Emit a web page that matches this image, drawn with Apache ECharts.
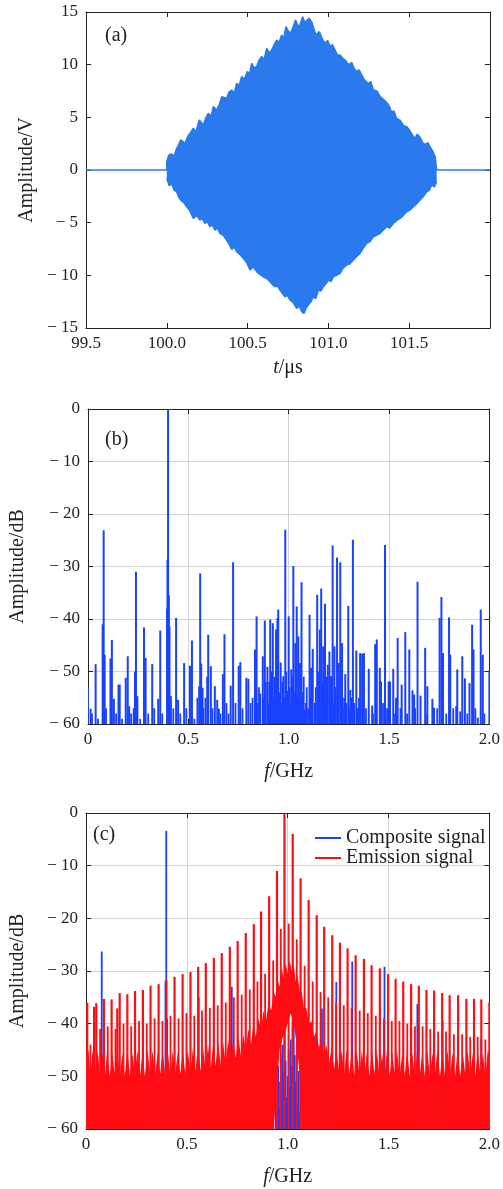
<!DOCTYPE html>
<html><head><meta charset="utf-8">
<script src="https://cdn.jsdelivr.net/npm/echarts@6/dist/echarts.min.js"></script>
<style>html,body{margin:0;padding:0;background:#fff}#c{width:503px;height:1189px}</style>
</head><body><div id="c"></div>
<script>
// ---------- Panel (a): time-domain envelope (t in µs, amplitude in V) ----------
const aUpper = [[99.5,0],[100.0,0],[100.0,0.79],[100.012,1.40],[100.030,1.52],[100.045,1.30],[100.057,1.90],[100.070,2.30],[100.086,2.85],[100.113,2.53],[100.130,3.20],[100.144,3.48],[100.164,3.96],[100.180,3.60],[100.201,4.75],[100.226,4.27],[100.240,4.90],[100.257,5.38],[100.275,5.10],[100.288,6.01],[100.309,5.70],[100.325,6.20],[100.340,6.96],[100.371,6.80],[100.385,7.40],[100.402,7.59],[100.418,7.30],[100.432,8.23],[100.448,8.00],[100.463,8.86],[100.480,8.60],[100.498,9.34],[100.512,9.10],[100.525,10.13],[100.540,9.70],[100.556,9.81],[100.570,10.40],[100.587,10.76],[100.603,10.50],[100.618,11.55],[100.635,11.10],[100.649,11.39],[100.665,11.90],[100.680,12.34],[100.695,12.10],[100.711,12.82],[100.725,12.50],[100.737,13.61],[100.752,13.20],[100.766,12.97],[100.782,13.60],[100.797,14.24],[100.810,13.70],[100.824,13.77],[100.841,14.56],[100.853,14.00],[100.865,13.92],[100.880,14.40],[100.896,14.08],[100.910,13.40],[100.923,12.82],[100.944,13.13],[100.960,12.50],[100.979,12.03],[100.995,12.30],[101.010,11.71],[101.025,11.90],[101.041,11.39],[101.056,10.90],[101.072,10.92],[101.088,10.60],[101.103,10.44],[101.125,10.00],[101.144,10.20],[101.160,9.60],[101.175,9.34],[101.190,9.50],[101.206,9.00],[101.225,8.50],[101.247,8.20],[101.262,8.40],[101.278,7.60],[101.300,7.50],[101.319,7.00],[101.340,6.70],[101.360,6.40],[101.375,6.10],[101.391,5.50],[101.405,5.60],[101.422,4.90],[101.445,4.70],[101.464,4.20],[101.485,4.10],[101.505,3.70],[101.520,3.30],[101.536,3.00],[101.550,3.40],[101.567,3.10],[101.583,2.60],[101.598,2.40],[101.615,2.60],[101.629,2.20],[101.645,1.80],[101.660,1.27],[101.670,1.11],[101.670,0],[102.0,0]];
const aLower = [[100.0,-0.79],[100.015,-1.50],[100.030,-1.27],[100.045,-1.90],[100.061,-2.06],[100.075,-2.60],[100.086,-2.85],[100.105,-3.10],[100.123,-3.48],[100.140,-3.80],[100.164,-4.59],[100.185,-4.30],[100.205,-4.75],[100.220,-4.60],[100.236,-5.06],[100.250,-4.90],[100.267,-5.38],[100.282,-5.20],[100.298,-5.70],[100.312,-5.50],[100.329,-6.01],[100.350,-6.20],[100.370,-6.65],[100.385,-7.00],[100.402,-7.53],[100.418,-7.30],[100.432,-7.75],[100.452,-8.00],[100.474,-8.39],[100.495,-8.80],[100.515,-9.49],[100.535,-9.20],[100.556,-9.65],[100.575,-9.90],[100.597,-10.13],[100.618,-10.30],[100.639,-10.60],[100.655,-10.90],[100.670,-11.08],[100.685,-11.00],[100.700,-11.39],[100.715,-11.70],[100.731,-12.03],[100.746,-11.90],[100.762,-12.34],[100.783,-12.60],[100.804,-13.13],[100.820,-12.90],[100.835,-13.45],[100.849,-13.61],[100.862,-13.10],[100.876,-12.82],[100.892,-12.50],[100.907,-12.03],[100.922,-12.20],[100.938,-11.39],[100.953,-11.50],[100.969,-11.08],[100.985,-10.80],[101.000,-10.44],[101.015,-10.60],[101.031,-10.13],[101.050,-10.00],[101.072,-9.81],[101.092,-9.30],[101.113,-9.02],[101.134,-8.90],[101.154,-8.54],[101.175,-8.20],[101.196,-7.91],[101.216,-7.40],[101.237,-6.96],[101.258,-6.80],[101.278,-6.33],[101.298,-6.20],[101.319,-6.01],[101.340,-5.70],[101.360,-5.38],[101.380,-5.50],[101.402,-5.06],[101.422,-4.80],[101.443,-4.59],[101.464,-4.30],[101.484,-3.96],[101.505,-3.80],[101.526,-3.48],[101.546,-3.20],[101.567,-2.85],[101.588,-2.50],[101.608,-2.06],[101.625,-1.90],[101.639,-1.42],[101.655,-1.60],[101.670,-1.11]];

// ---------- Panel (b): spectrum spikes [f GHz, dB] ----------
const bSpikes = [[0.000,-53.0],[0.013,-57.1],[0.038,-48.6],[0.073,-41.0],[0.078,-23.1],[0.083,-46.8],[0.112,-47.5],[0.119,-44.0],[0.129,-55.2],[0.152,-52.5],[0.158,-52.5],[0.188,-51.2],[0.198,-47.1],[0.205,-56.6],[0.228,-57.0],[0.234,-50.0],[0.239,-31.0],[0.246,-54.7],[0.279,-41.6],[0.287,-47.4],[0.320,-48.6],[0.350,-55.2],[0.360,-42.2],[0.394,-38.0],[0.396,-28.7],[0.399,0],[0.403,-35.5],[0.406,-41.4],[0.413,-54.7],[0.439,-39.8],[0.449,-55.4],[0.479,-48.4],[0.508,-48.9],[0.518,-44.1],[0.554,-52.8],[0.559,-31.3],[0.564,-48.5],[0.571,-53.1],[0.594,-51.0],[0.599,-43.0],[0.612,-49.0],[0.632,-52.8],[0.644,-55.4],[0.652,-57.1],[0.672,-50.5],[0.680,-42.9],[0.711,-52.7],[0.723,-29.2],[0.751,-48.9],[0.759,-48.2],[0.789,-51.2],[0.799,-51.4],[0.832,-45.8],[0.840,-39.5],[0.858,-54.2],[0.871,-47.1],[0.881,-40.3],[0.894,-49.1],[0.908,-40.1],[0.921,-40.8],[0.937,-42.0],[0.944,-39.8],[0.948,-38.2],[0.960,-48.3],[0.973,-50.9],[0.983,-23.0],[0.992,-53.7],[1.000,-39.5],[1.013,-49.6],[1.023,-29.9],[1.033,-44.6],[1.040,-37.6],[1.048,-43.3],[1.056,-48.4],[1.064,-33.0],[1.079,-57.3],[1.104,-39.2],[1.112,-49.3],[1.120,-45.7],[1.142,-35.4],[1.155,-42.0],[1.162,-34.2],[1.172,-45.2],[1.181,-37.1],[1.195,-48.7],[1.203,-46.2],[1.211,-50.9],[1.219,-26.0],[1.228,-45.2],[1.241,-28.3],[1.249,-48.4],[1.257,-29.2],[1.266,-44.6],[1.282,-50.5],[1.297,-37.5],[1.307,-53.5],[1.320,-24.9],[1.337,-46.0],[1.356,-46.5],[1.366,-46.6],[1.375,-46.5],[1.399,-49.5],[1.416,-56.5],[1.431,-44.8],[1.439,-43.9],[1.454,-49.3],[1.460,-51.9],[1.480,-25.9],[1.498,-51.9],[1.505,-51.9],[1.521,-49.5],[1.535,-55.0],[1.543,-43.6],[1.563,-52.5],[1.581,-42.5],[1.601,-45.8],[1.617,-53.6],[1.625,-54.4],[1.642,-32.9],[1.657,-54.6],[1.680,-45.5],[1.691,-52.8],[1.716,-55.2],[1.724,-56.9],[1.752,-39.8],[1.761,-35.8],[1.769,-46.5],[1.799,-39.7],[1.805,-46.8],[1.835,-56.6],[1.840,-49.6],[1.855,-57.6],[1.865,-47.1],[1.878,-51.3],[1.901,-52.2],[1.914,-41.1],[1.921,-45.8],[1.942,-58.8],[1.957,-38.2],[1.967,-46.8],[2.000,-49.8]];
const bNoise = [[0.020,-58],[0.050,-59],[0.090,-57],[0.140,-58],[0.170,-59],[0.215,-58],[0.260,-59],[0.300,-58],[0.330,-57],[0.370,-58],[0.425,-57],[0.460,-58],[0.490,-57],[0.530,-59],[0.545,-55],[0.575,-57],[0.585,-55],[0.620,-57],[0.660,-58],[0.690,-56],[0.700,-58],[0.735,-56],[0.770,-57],[0.810,-56],[0.820,-55],[0.845,-56],[0.852,-53],[0.876,-55],[0.886,-52],[0.899,-56],[0.903,-52],[0.912,-54],[0.916,-50],[0.925,-55],[0.930,-51],[0.953,-54],[0.965,-56],[0.969,-52],[0.978,-55],[0.988,-50],[0.995,-57],[1.005,-53],[1.010,-56],[1.017,-51],[1.028,-54],[1.036,-50],[1.045,-55],[1.052,-52],[1.060,-56],[1.070,-54],[1.075,-51],[1.085,-56],[1.090,-53],[1.097,-57],[1.108,-55],[1.116,-52],[1.130,-56],[1.135,-53],[1.148,-50],[1.152,-55],[1.168,-52],[1.176,-56],[1.186,-54],[1.190,-51],[1.207,-55],[1.214,-52],[1.224,-56],[1.232,-53],[1.246,-55],[1.262,-54],[1.270,-57],[1.276,-55],[1.288,-56],[1.302,-57],[1.312,-55],[1.327,-56],[1.345,-57],[1.350,-55],[1.385,-57],[1.420,-58],[1.470,-56],[1.490,-57],[1.530,-58],[1.557,-57],[1.590,-58],[1.630,-57],[1.690,-58],[1.740,-57],[1.785,-58],[1.820,-57],[1.890,-58],[1.930,-57],[1.975,-58]];

// ---------- Panel (c): composite (blue) and emission (red) spectra ----------
const cComposite = [[0.073,-42],[0.078,-26.3],[0.082,-47],[0.300,-58],[0.394,-32],[0.398,-3.4],[0.402,-39],[0.470,-58.5],[0.559,-35],[0.630,-57.5],[0.720,-43],[0.723,-33],[0.800,-56],[0.870,-51],[0.880,-56],[0.940,-50],[0.944,-45],[0.948,-52],[0.953,-48],[0.957,-56],[0.962,-51],[0.966,-46],[0.970,-53],[0.975,-44],[0.980,-49],[0.985,-41],[0.990,-47],[0.995,-54],[1.000,-50],[1.005,-45],[1.010,-52],[1.015,-43],[1.020,-48],[1.025,-40],[1.030,-38],[1.035,-46],[1.040,-51],[1.045,-44],[1.050,-55],[1.055,-49],[1.060,-57],[1.065,-52],[1.100,-55],[1.150,-56],[1.170,-37.1],[1.241,-32.1],[1.310,-58],[1.320,-28.2],[1.480,-29.2],[1.643,-36.3],[1.768,-39.5],[1.960,-43]];
const cEmissionComb = [[0.006,-36.0],[0.040,-36.8],[0.051,-36.1],[0.089,-35.3],[0.127,-35.4],[0.155,-37.1],[0.167,-34.2],[0.205,-34.4],[0.243,-33.8],[0.282,-33.6],[0.320,-32.8],[0.360,-32.5],[0.398,-31.7],[0.439,-31.1],[0.479,-30.6],[0.518,-30.2],[0.556,-29.2],[0.594,-28.5],[0.634,-27.5],[0.673,-26.6],[0.713,-25.4],[0.752,-24.3],[0.792,-22.8],[0.832,-21.1],[0.868,-18.7],[0.908,-15.8],[0.947,-11.0],[0.984,0],[1.025,-4.0],[1.064,-12.4],[1.104,-16.5],[1.144,-19.4],[1.181,-21.6],[1.221,-23.2],[1.259,-24.6],[1.297,-25.7],[1.337,-27.0],[1.378,-27.7],[1.416,-28.9],[1.457,-29.5],[1.498,-30.6],[1.535,-31.5],[1.573,-32.0],[1.612,-32.5],[1.650,-32.8],[1.688,-33.6],[1.726,-33.7],[1.766,-34.2],[1.803,-34.6],[1.845,-34.6],[1.886,-35.3],[1.924,-35.3],[1.960,-35.4],[2.000,-36.0]];
const cEmissionSide = [[0.022,-44],[0.070,-41],[0.108,-40.5],[0.146,-41],[0.186,-40],[0.224,-40.5],[0.263,-39.5],[0.301,-40],[0.340,-39],[0.379,-39.5],[0.419,-38.5],[0.459,-39],[0.498,-38],[0.537,-38.5],[0.575,-37.5],[0.614,-37],[0.653,-36.5],[0.693,-36],[0.733,-35],[0.772,-34.5],[0.812,-33.5],[0.850,-32],[0.888,-30.5],[0.928,-28],[0.966,-22],[1.005,-21],[1.045,-24],[1.084,-29],[1.124,-32],[1.163,-34],[1.201,-35],[1.240,-36],[1.278,-36.5],[1.317,-37],[1.357,-37.5],[1.397,-38],[1.437,-38.5],[1.477,-39],[1.516,-39.5],[1.554,-39.5],[1.593,-40],[1.631,-40.5],[1.669,-40.5],[1.707,-41],[1.746,-41.5],[1.785,-41.5],[1.824,-42],[1.865,-42],[1.905,-42.5],[1.942,-42.5],[1.980,-43]];
const cFloorUpper = [[0.000,-46],[0.012,-45],[0.022,-50],[0.032,-45],[0.045,-49.5],[0.058,-45],[0.070,-50],[0.082,-45.5],[0.095,-49.5],[0.105,-45],[0.118,-50],[0.130,-45.5],[0.142,-49.5],[0.155,-45],[0.168,-50],[0.180,-45.5],[0.192,-50],[0.205,-45],[0.218,-50],[0.230,-45.5],[0.242,-49.5],[0.255,-45],[0.268,-50],[0.280,-45.5],[0.292,-50],[0.305,-45],[0.318,-49.5],[0.330,-45],[0.342,-50],[0.355,-45.5],[0.368,-49.5],[0.380,-45],[0.392,-49.5],[0.405,-45],[0.418,-50],[0.430,-45],[0.442,-49.5],[0.455,-45.5],[0.468,-49.5],[0.480,-45],[0.492,-49.5],[0.505,-45],[0.518,-49.5],[0.530,-44.5],[0.542,-49],[0.555,-44.5],[0.568,-49],[0.580,-44.5],[0.592,-48.5],[0.605,-44],[0.618,-48.5],[0.630,-44],[0.642,-48],[0.655,-43.5],[0.668,-48],[0.680,-43.5],[0.692,-47.5],[0.705,-43],[0.718,-47],[0.730,-43],[0.742,-46.5],[0.755,-42.5],[0.768,-46],[0.780,-42],[0.792,-45],[0.805,-41],[0.818,-44],[0.830,-40],[0.842,-42.5],[0.855,-39],[0.868,-41],[0.880,-37.5],[0.892,-39.5],[0.905,-36],[0.918,-37.5],[0.930,-34],[0.942,-35],[0.952,-32],[0.962,-33],[0.972,-29.5],[0.980,-31.5],[0.990,-28.5],[1.000,-30.5],[1.010,-28],[1.020,-30],[1.030,-29],[1.040,-32],[1.050,-31],[1.060,-34],[1.070,-34],[1.080,-37],[1.092,-37],[1.105,-40],[1.118,-39.5],[1.130,-42.5],[1.142,-41.5],[1.155,-44.5],[1.168,-43],[1.180,-46],[1.192,-44],[1.205,-47.5],[1.218,-44.5],[1.230,-48.5],[1.242,-45],[1.255,-49],[1.268,-45],[1.280,-49.5],[1.292,-45],[1.305,-49.5],[1.318,-45],[1.330,-50],[1.342,-45],[1.355,-49.5],[1.368,-45],[1.380,-50],[1.392,-45.5],[1.405,-50],[1.418,-45],[1.430,-49.5],[1.442,-45],[1.455,-50],[1.468,-45.5],[1.480,-50],[1.492,-45],[1.505,-50],[1.518,-45.5],[1.530,-49.5],[1.542,-45],[1.555,-50],[1.568,-45.5],[1.580,-50],[1.592,-45],[1.605,-50],[1.618,-45.5],[1.630,-50],[1.642,-45],[1.655,-49.5],[1.668,-45.5],[1.680,-50],[1.692,-45],[1.705,-50],[1.718,-45.5],[1.730,-49.5],[1.742,-45],[1.755,-50],[1.768,-45.5],[1.780,-50],[1.792,-45],[1.805,-49.5],[1.818,-45.5],[1.830,-50],[1.842,-45],[1.855,-50],[1.868,-45.5],[1.880,-49.5],[1.892,-45],[1.905,-50],[1.918,-45.5],[1.930,-50],[1.942,-45],[1.955,-49.5],[1.968,-45.5],[1.980,-50],[1.992,-45],[2.000,-46]];
const cFloorLower = [[0.000,-60],[0.930,-60],[0.940,-55],[0.950,-50],[0.960,-45],[0.970,-43],[0.985,-42],[1.000,-40],[1.015,-38],[1.030,-40],[1.045,-44],[1.055,-48],[1.062,-53],[1.070,-60],[2.000,-60]];

const ticksA = {xMin:99.5, xMax:102, xStep:0.5, yMin:-15, yMax:15, yStep:5};
const ticksF = {xMin:0, xMax:2, xStep:0.5, yMin:-60, yMax:0, yStep:10};

// ---------- styling ----------
const FONT = "'Liberation Serif','DejaVu Serif',serif";
const INK = '#222';
const BLUE_A = '#2a7aee', BLUE = '#1941ff', RED = '#ff0d14';

function yFmt(v){ return v < 0 ? '\u2212 ' + (-v) : String(v); }
function fFmt(v){ return v === 0 ? '0' : v.toFixed(1); }
function tFmt(v){ return v >= 102 ? '' : v.toFixed(1); }

const nameStyle = {fontFamily: FONT, fontSize: 20, color: INK,
  rich: {i: {fontFamily: FONT, fontSize: 20, fontStyle: 'italic', color: INK}}};
const labelStyle = {fontFamily: FONT, fontSize: 17, color: INK};

function axesX(gi, t, fmt, name, gap, grid){
  const c = {type:'value', gridIndex:gi, min:t.xMin, max:t.xMax, interval:t.xStep,
    axisLine:{show:true, onZero:false, lineStyle:{color:INK, width:1}},
    axisTick:{show:true, inside:true, length:5, lineStyle:{color:INK}},
    splitLine:{show:grid, lineStyle:{color:'#d2d2d2', width:1}}};
  return [
    Object.assign({}, c, {position:'bottom', name:name, nameLocation:'middle', nameGap:gap, nameTextStyle:nameStyle,
      axisLabel:Object.assign({formatter:fmt, margin:7, showMinLabel:true, showMaxLabel:true}, labelStyle)}),
    Object.assign({}, c, {position:'top', axisLabel:{show:false}, splitLine:{show:false}})
  ];
}
function axesY(gi, t, name, gap, grid){
  const c = {type:'value', gridIndex:gi, min:t.yMin, max:t.yMax, interval:t.yStep,
    axisLine:{show:true, onZero:false, lineStyle:{color:INK, width:1}},
    axisTick:{show:true, inside:true, length:5, lineStyle:{color:INK}},
    splitLine:{show:grid, lineStyle:{color:'#d2d2d2', width:1}}};
  return [
    Object.assign({}, c, {position:'left', name:name, nameLocation:'middle', nameGap:gap, nameTextStyle:nameStyle,
      axisLabel:Object.assign({formatter:yFmt, margin:8, showMinLabel:true, showMaxLabel:true}, labelStyle)}),
    Object.assign({}, c, {position:'right', axisLabel:{show:false}, splitLine:{show:false}})
  ];
}

function spikeSeries(name, arr, color, width, xi, base){
  return {type:'custom', name:name, xAxisIndex:xi, yAxisIndex:xi, clip:true,
    itemStyle:{color:color},
    dimensions:['f','v'],
    data:arr,
    renderItem:function(params, api){
      const p1 = api.coord([api.value(0), base]);
      const p2 = api.coord([api.value(0), api.value(1)]);
      return {type:'line', shape:{x1:p1[0], y1:p1[1], x2:p2[0], y2:p2[1]},
        style:{stroke:color, lineWidth:width}};
    }};
}
function bandSeries(name, upper, lower, color, xi){
  return {type:'custom', name:name, xAxisIndex:xi, yAxisIndex:xi, clip:true,
    itemStyle:{color:color},
    data:upper,
    renderItem:function(params, api){
      if (params.dataIndex !== 0) return null;
      const pts = upper.map(p => api.coord(p)).concat(lower.slice().reverse().map(p => api.coord(p)));
      return {type:'polygon', shape:{points:pts}, style:{fill:color}};
    }};
}

const chart = echarts.init(document.getElementById('c'), null, {renderer:'canvas'});
chart.setOption({
  animation:false,
  backgroundColor:'#fff',
  grid:[
    {left:86, top:12, width:404, height:316},
    {left:86, top:409, width:404, height:315},
    {left:86, top:813, width:404, height:316}
  ],
  xAxis:[].concat(
    axesX(0, ticksA, tFmt, '{i|t}/μs', 30, false),
    axesX(1, ticksF, fFmt, '{i|f}/GHz', 38, true),
    axesX(2, ticksF, fFmt, '{i|f}/GHz', 38, true)
  ),
  yAxis:[].concat(
    axesY(0, ticksA, 'Amplitude/V', 39, false),
    axesY(1, ticksF, 'Amplitude/dB', 60, true),
    axesY(2, ticksF, 'Amplitude/dB', 58, true)
  ),
  legend:{data:['Composite signal','Emission signal'], orient:'vertical', left:310, top:823,
    icon:'rect', itemWidth:26, itemHeight:2, itemGap:0, selectedMode:false,
    textStyle:{fontFamily:FONT, fontSize:20, color:INK, lineHeight:20}},
  graphic:[
    {type:'text', left:105, top:26, style:{text:'(a)', font:'20px ' + FONT, fill:INK}},
    {type:'text', left:105, top:430, style:{text:'(b)', font:'20px ' + FONT, fill:INK}},
    {type:'text', left:93, top:825, style:{text:'(c)', font:'20px ' + FONT, fill:INK}}
  ],
  series:[
    {type:'line', name:'envelope upper', xAxisIndex:0, yAxisIndex:0, data:aUpper, symbol:'none',
      lineStyle:{color:BLUE_A, width:1.6}, areaStyle:{color:BLUE_A, opacity:1}, itemStyle:{color:BLUE_A}},
    {type:'line', name:'envelope lower', xAxisIndex:0, yAxisIndex:0, data:aLower, symbol:'none',
      lineStyle:{color:BLUE_A, width:1.6}, areaStyle:{color:BLUE_A, opacity:1}, itemStyle:{color:BLUE_A}},
    spikeSeries('spectrum', bNoise, BLUE, 1.8, 2, -60),
    spikeSeries('spectrum', bSpikes, BLUE, 2, 2, -60),
    spikeSeries('Composite signal', cComposite, BLUE, 1.8, 4, -60),
    bandSeries('Emission signal', cFloorUpper, cFloorLower, RED, 4),
    spikeSeries('Emission signal', cEmissionSide, RED, 1.8, 4, -60),
    spikeSeries('Emission signal', cEmissionComb, RED, 2.2, 4, -60)
  ]
});
</script></body></html>
